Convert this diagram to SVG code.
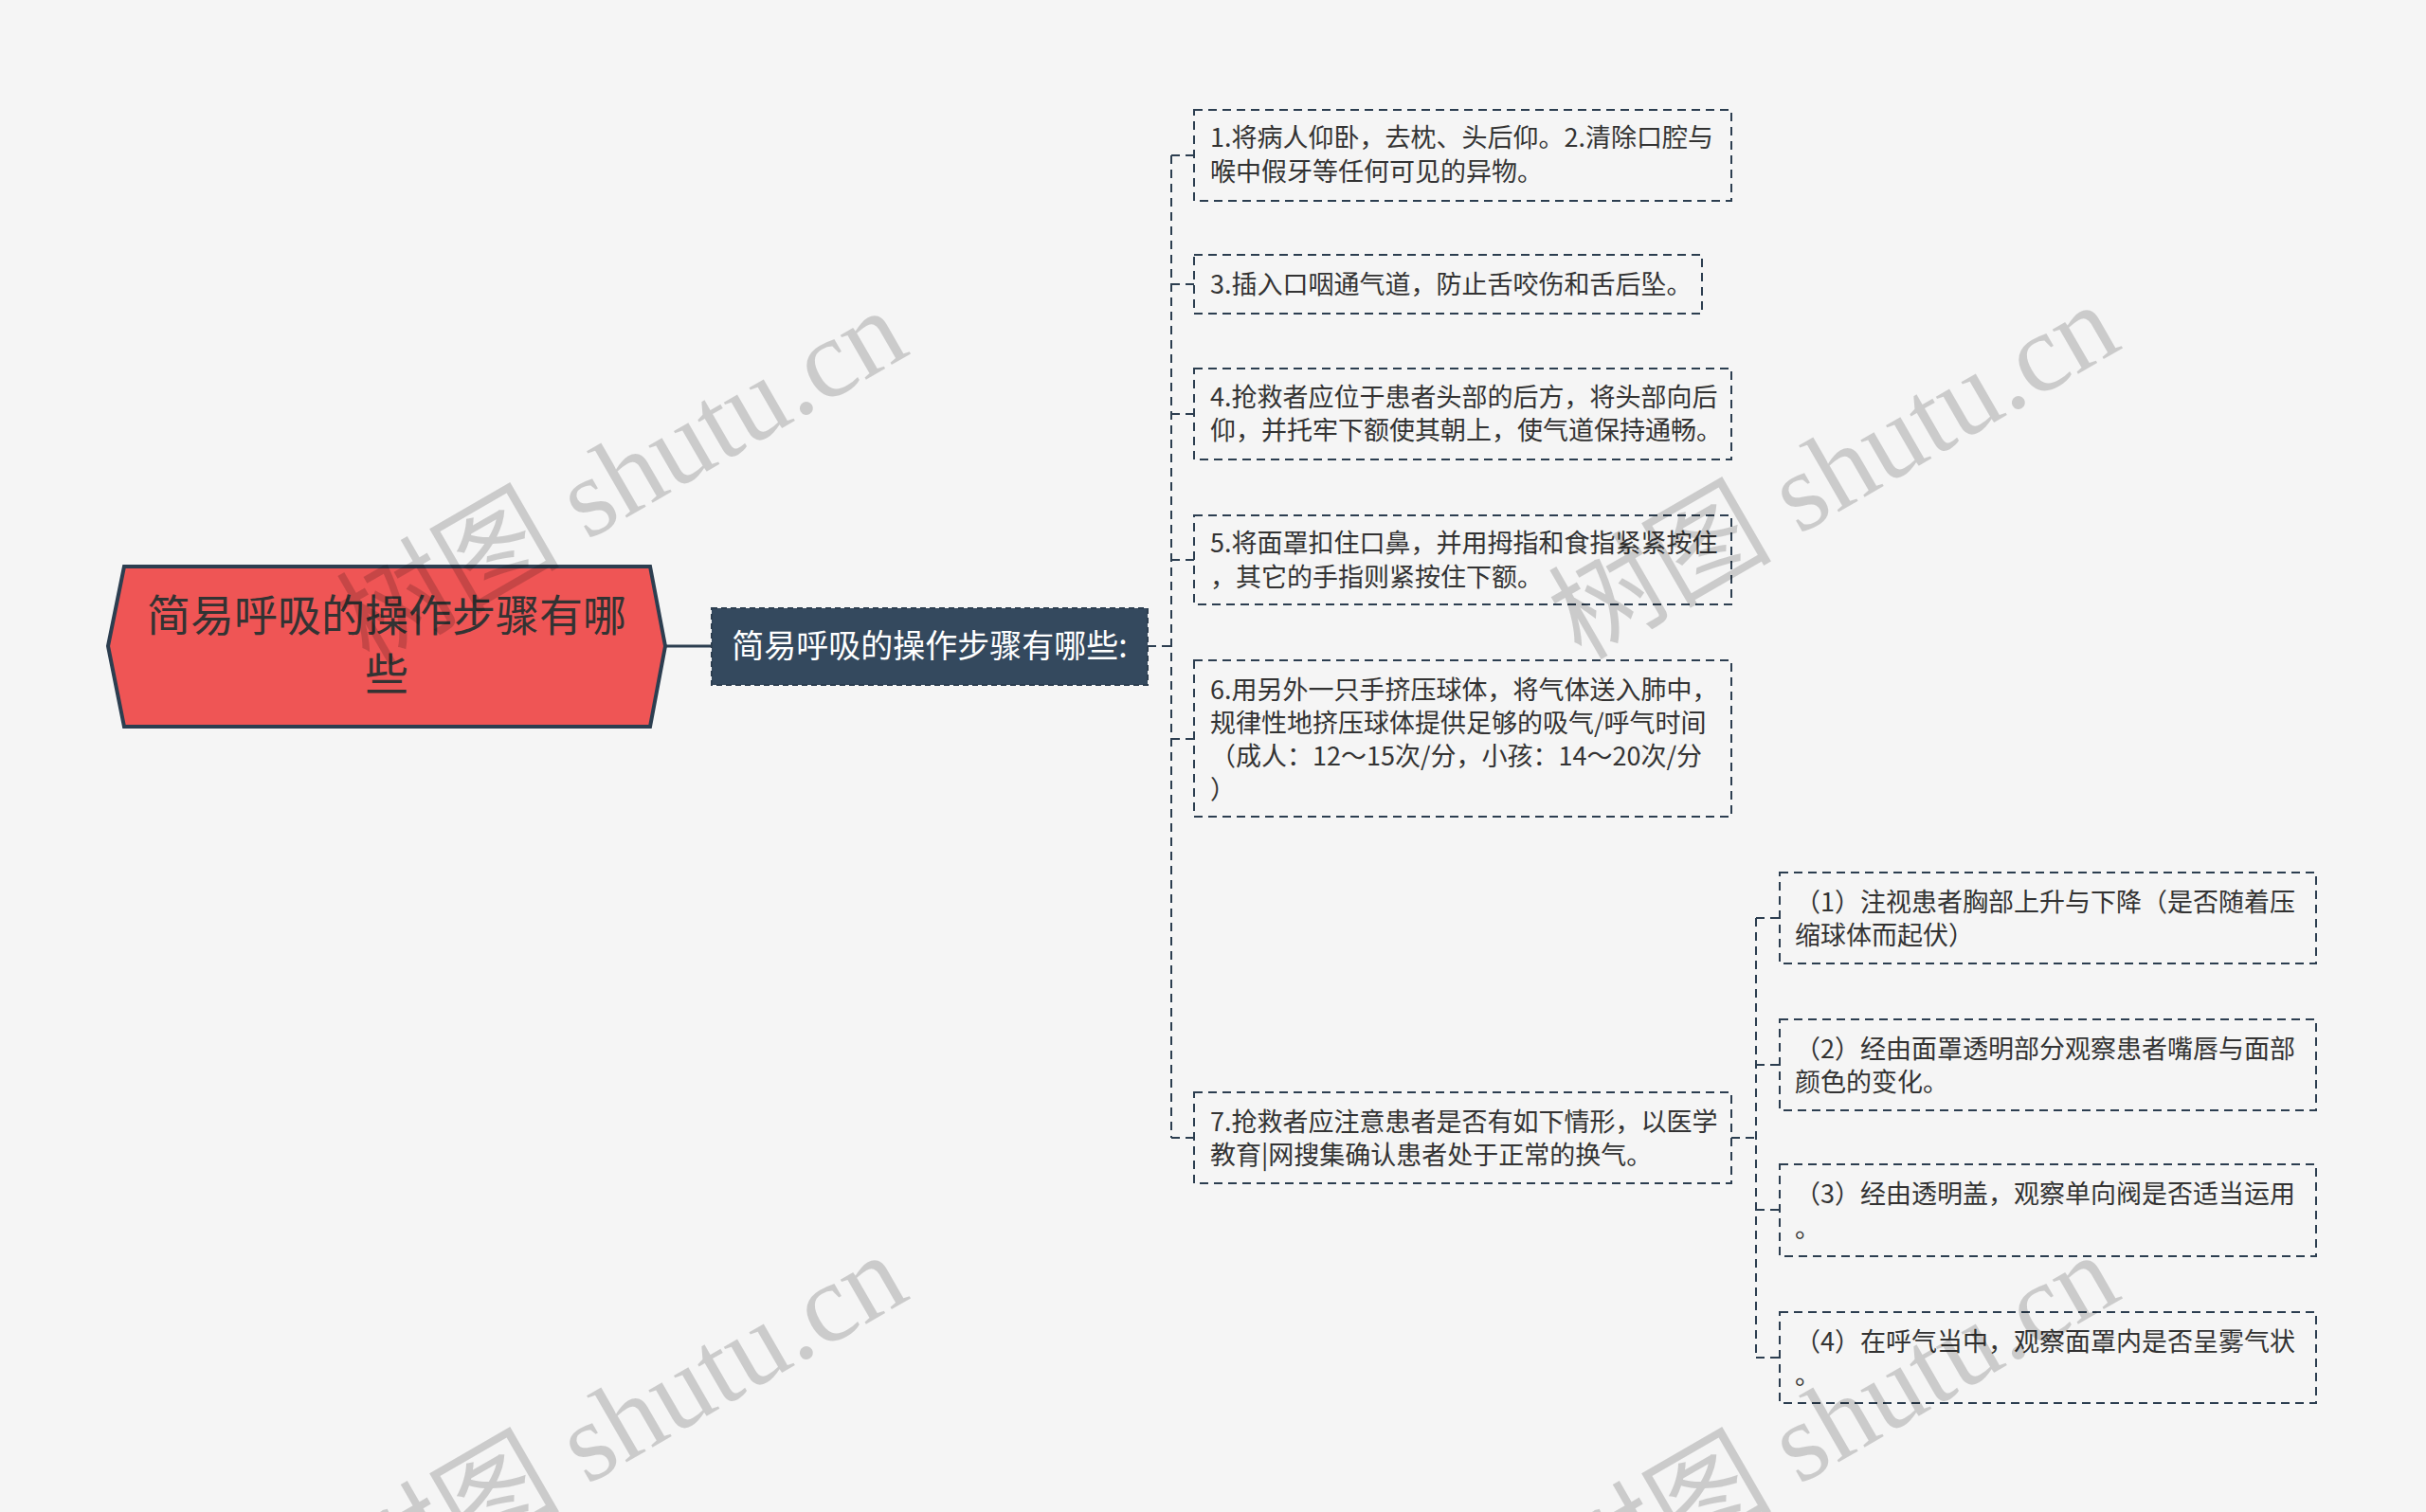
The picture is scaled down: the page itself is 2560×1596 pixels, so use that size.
<svg xmlns="http://www.w3.org/2000/svg" width="2560" height="1596" viewBox="0 0 2560 1596">
<style>
.bg{fill:#f5f5f5}
.leaf{fill:none;stroke:#2c3e50;stroke-width:2;stroke-dasharray:9 6}
.lt{font-family:"Noto Sans CJK SC","Noto Sans",sans-serif;font-size:27px;fill:#333333}
.conn{fill:none;stroke:#2c3e50;stroke-width:2;stroke-dasharray:9 6}
.wm{font-family:"Liberation Serif","Noto Sans CJK SC",serif;font-size:118px;fill:#000000;fill-opacity:0.17}
</style>
<rect class="bg" x="0" y="0" width="2560" height="1596"/>
<g id="connectors">
<path d="M702,682 H751" stroke="#2c3e50" stroke-width="3" fill="none"/>
<path class="conn" d="M1211,682 H1236"/>
<path class="conn" d="M1236,164 V1201"/>
<path class="conn" d="M1236,164 H1260"/>
<path class="conn" d="M1236,300 H1260"/>
<path class="conn" d="M1236,437 H1260"/>
<path class="conn" d="M1236,591 H1260"/>
<path class="conn" d="M1236,780 H1260"/>
<path class="conn" d="M1236,1201 H1260"/>
<path class="conn" d="M1827,1201 H1853"/>
<path class="conn" d="M1853,969 V1433"/>
<path class="conn" d="M1853,969 H1878"/>
<path class="conn" d="M1853,1124 H1878"/>
<path class="conn" d="M1853,1277 H1878"/>
<path class="conn" d="M1853,1433 H1878"/>
</g>
<g id="root">
<polygon points="114,682 131,598 686,598 702,682 686,767 131,767" fill="#ef5555" stroke="#2c3e50" stroke-width="4"/>
<text x="408" y="666" text-anchor="middle" font-family="Noto Sans CJK SC, sans-serif" font-size="46" fill="#333333">简易呼吸的操作步骤有哪</text>
<text x="408" y="728" text-anchor="middle" font-family="Noto Sans CJK SC, sans-serif" font-size="46" fill="#333333">些</text>
</g>
<g id="main">
<rect x="751" y="642" width="460" height="81" fill="#34495e" stroke="#2c3e50" stroke-width="2" stroke-dasharray="6 4"/>
<text x="981" y="694" text-anchor="middle" font-family="Noto Sans CJK SC, sans-serif" font-size="34" fill="#ffffff">简易呼吸的操作步骤有哪些:</text>
</g>
<g id="n1">
<rect class="leaf" x="1260" y="116" width="567" height="96"/>
<text class="lt" x="1277" y="155">1.将病人仰卧，去枕、头后仰。2.清除口腔与</text>
<text class="lt" x="1277" y="191">喉中假牙等任何可见的异物。</text>
</g>
<g id="n2">
<rect class="leaf" x="1260" y="269" width="536" height="62"/>
<text class="lt" x="1277" y="310">3.插入口咽通气道，防止舌咬伤和舌后坠。</text>
</g>
<g id="n3">
<rect class="leaf" x="1260" y="389" width="567" height="96"/>
<text class="lt" x="1277" y="429">4.抢救者应位于患者头部的后方，将头部向后</text>
<text class="lt" x="1277" y="464">仰，并托牢下额使其朝上，使气道保持通畅。</text>
</g>
<g id="n4">
<rect class="leaf" x="1260" y="544" width="567" height="94"/>
<text class="lt" x="1277" y="583">5.将面罩扣住口鼻，并用拇指和食指紧紧按住</text>
<text class="lt" x="1277" y="619">，其它的手指则紧按住下额。</text>
</g>
<g id="n5">
<rect class="leaf" x="1260" y="697" width="567" height="165"/>
<text class="lt" x="1277" y="738">6.用另外一只手挤压球体，将气体送入肺中，</text>
<text class="lt" x="1277" y="773">规律性地挤压球体提供足够的吸气/呼气时间</text>
<text class="lt" x="1277" y="808">（成人：12～15次/分，小孩：14～20次/分</text>
<text class="lt" x="1277" y="843">）</text>
</g>
<g id="n6">
<rect class="leaf" x="1260" y="1153" width="567" height="96"/>
<text class="lt" x="1277" y="1194">7.抢救者应注意患者是否有如下情形，以医学</text>
<text class="lt" x="1277" y="1229">教育|网搜集确认患者处于正常的换气。</text>
</g>
<g id="s1">
<rect class="leaf" x="1878" y="921" width="566" height="96"/>
<text class="lt" x="1894" y="962">（1）注视患者胸部上升与下降（是否随着压</text>
<text class="lt" x="1894" y="997">缩球体而起伏）</text>
</g>
<g id="s2">
<rect class="leaf" x="1878" y="1076" width="566" height="96"/>
<text class="lt" x="1894" y="1117">（2）经由面罩透明部分观察患者嘴唇与面部</text>
<text class="lt" x="1894" y="1152">颜色的变化。</text>
</g>
<g id="s3">
<rect class="leaf" x="1878" y="1229" width="566" height="97"/>
<text class="lt" x="1894" y="1270">（3）经由透明盖，观察单向阀是否适当运用</text>
<text class="lt" x="1894" y="1306">。</text>
</g>
<g id="s4">
<rect class="leaf" x="1878" y="1385" width="566" height="96"/>
<text class="lt" x="1894" y="1426">（4）在呼气当中，观察面罩内是否呈雾气状</text>
<text class="lt" x="1894" y="1461">。</text>
</g>
<g id="watermarks">
<text class="wm" text-anchor="middle" transform="translate(676,538) rotate(-30)">树图 shutu.cn</text>
<text class="wm" text-anchor="middle" transform="translate(1955,532) rotate(-30)">树图 shutu.cn</text>
<text class="wm" text-anchor="middle" transform="translate(676,1535) rotate(-30)">树图 shutu.cn</text>
<text class="wm" text-anchor="middle" transform="translate(1955,1535) rotate(-30)">树图 shutu.cn</text>
</g>
</svg>
